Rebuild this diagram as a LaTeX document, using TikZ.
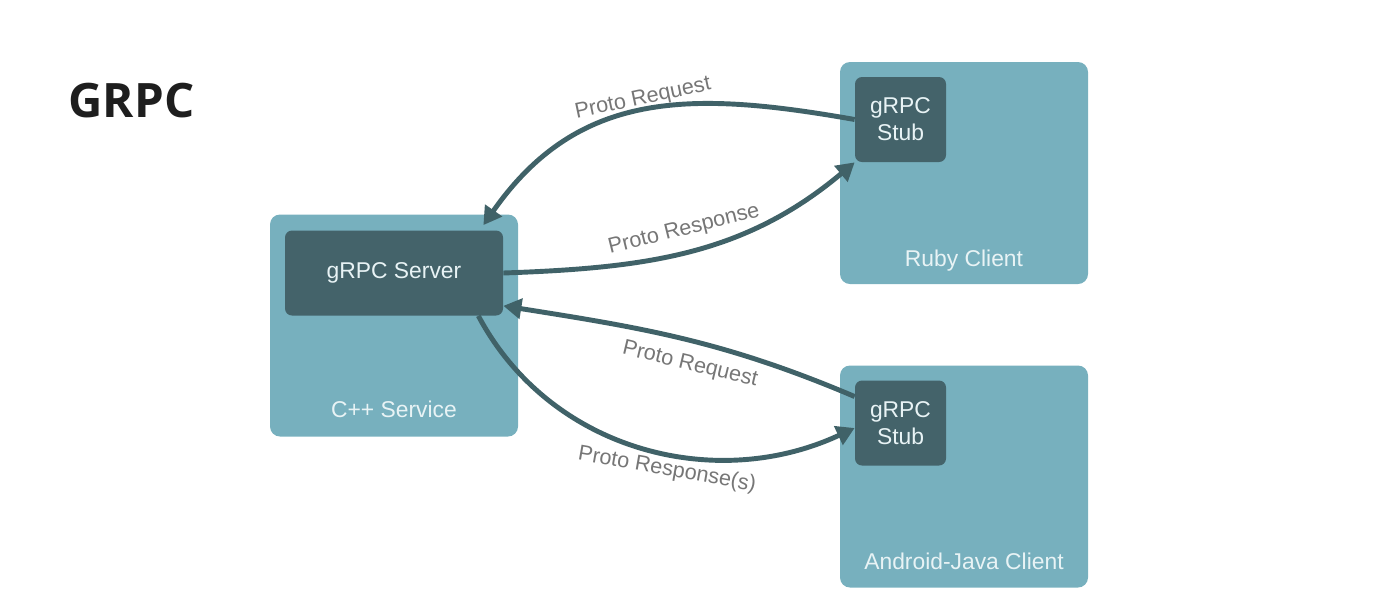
\documentclass[tikz,border=0pt]{standalone}
\usepackage{fontspec}
\setmainfont{Liberation Sans}
\newfontfamily\titlefont{Open Sans}
\usetikzlibrary{arrows.meta,positioning}
\definecolor{svcteal}{RGB}{119,176,190}
\definecolor{stubteal}{RGB}{68,99,106}
\definecolor{wireteal}{RGB}{64,98,104}
\definecolor{boxtext}{RGB}{232,243,245}
\definecolor{wiretext}{RGB}{118,118,118}
\definecolor{titleink}{RGB}{30,30,30}
\begin{document}
\begin{tikzpicture}[
    svc/.style={fill=svcteal, rounded corners=0.2cm, minimum width=4.96cm, minimum height=4.44cm},
    stub/.style={fill=stubteal, rounded corners=0.14cm, minimum height=1.7cm, text=boxtext, align=center, font=\fontsize{13}{15.5}\selectfont},
    svclabel/.style={text=boxtext, inner sep=0pt, font=\fontsize{13}{15.5}\selectfont},
    wire/.style={draw=wireteal, line width=2.8pt, -{Triangle[length=0.36cm, width=0.4cm]}},
    wirelabel/.style={text=wiretext, inner sep=0pt, font=\fontsize{12.3}{14}\selectfont}]
  \useasboundingbox (0,0) rectangle (28,-12);
  \node[text=titleink, font=\titlefont\bfseries\fontsize{27}{30}\selectfont] (title) at (2.63,-2.02) {GRPC};
  % service boxes
  \node[svc] (csvc) at (7.88,-6.51) {};
  \node[svc] (ruby) at (19.28,-3.46) {};
  \node[svc] (android) at (19.28,-9.53) {};
  \node[stub, minimum width=4.36cm, below right=0.32cm and 0.3cm of csvc.north west] (server) {gRPC Server};
  \node[stub, minimum width=1.82cm, below right=0.3cm and 0.3cm of ruby.north west] (rstub) {gRPC\\Stub};
  \node[stub, minimum width=1.82cm, below right=0.3cm and 0.3cm of android.north west] (astub) {gRPC\\Stub};
  \node[svclabel, above=0.38cm of csvc.south, anchor=base] (csvclbl) {C++ Service};
  \node[svclabel, above=0.36cm of ruby.south, anchor=base] (rubylbl) {Ruby Client};
  \node[svclabel, above=0.36cm of android.south, anchor=base] (androidlbl) {Android-Java Client};
  % calls
  \draw[wire] (rstub.west) to[out=170, in=55, looseness=1.1] ([xshift=-0.4cm, yshift=0.1cm]server.north east);
  \draw[wire] (server.east) to[out=2, in=220] (rstub.south west);
  \draw[wire] (astub.150) to[out=157, in=-9] ([yshift=0.2cm]server.south east);
  \draw[wire] ([xshift=-0.5cm]server.south east) to[out=-62, in=205] ([yshift=-0.1cm]astub.west);
  \node[wirelabel, rotate=12] (req1) at (12.86,-1.98) {Proto Request};
  \node[wirelabel, rotate=14] (resp1) at (13.68,-4.6) {Proto Response};
  \node[wirelabel, rotate=-13.5] (req2) at (13.8,-7.3) {Proto Request};
  \node[wirelabel, rotate=-10] (resp2) at (13.34,-9.4) {Proto Response(s)};
\end{tikzpicture}
\end{document}
